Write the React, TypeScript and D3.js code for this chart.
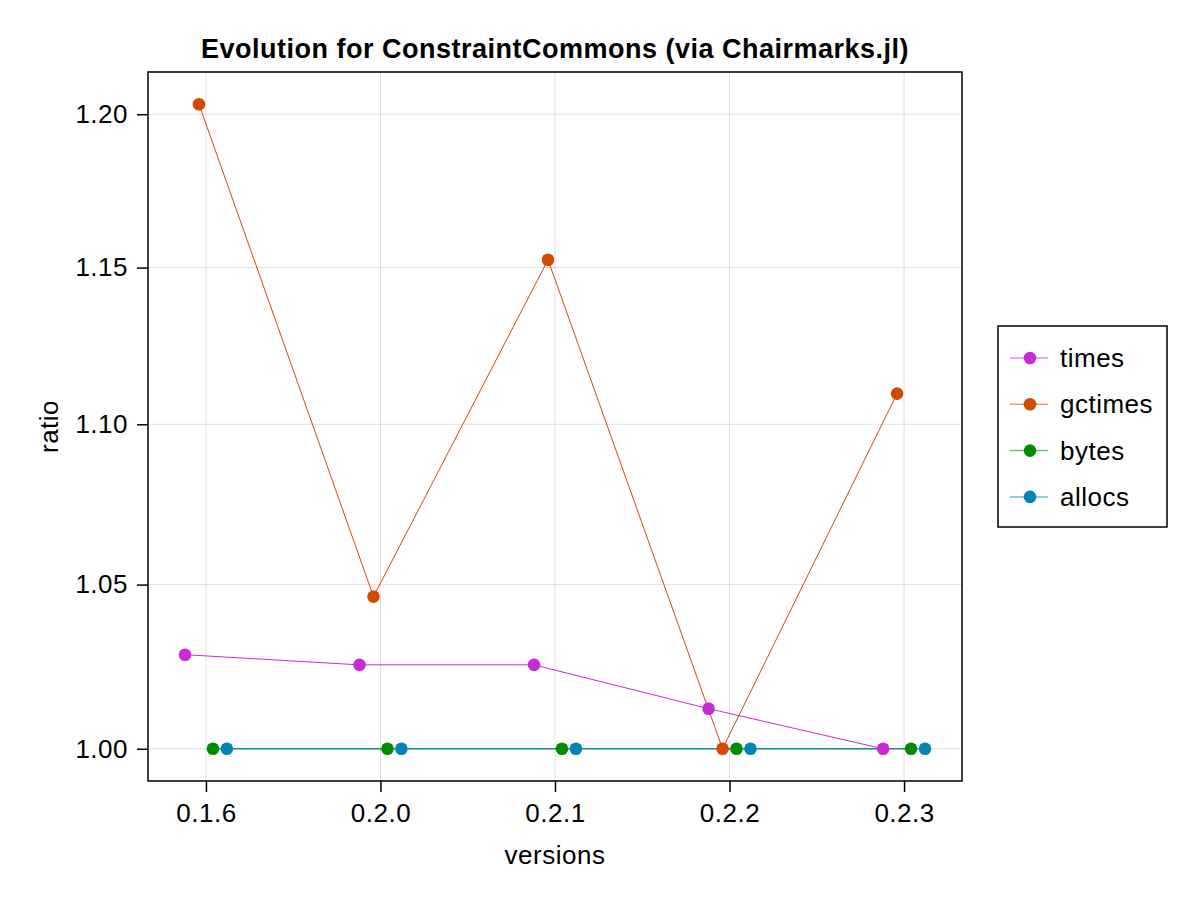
import { useEffect, useRef } from 'react';
import * as d3 from 'd3';

const versions = ['0.1.6', '0.2.0', '0.2.1', '0.2.2', '0.2.3'];
const seriesNames = ['times', 'gctimes', 'bytes', 'allocs'];
const timesValues = [1.0285, 1.0254, 1.0254, 1.0121, 1.0];
const gctimesValues = [1.2033, 1.0463, 1.1525, 1.0, 1.1097];
const bytesValues = [1.0, 1.0, 1.0, 1.0, 1.0];
const allocsValues = [1.0, 1.0, 1.0, 1.0, 1.0];
const yTicks = [1.0, 1.05, 1.1, 1.15, 1.2];
const colors = ['#c92ad8', '#d04a02', '#008b00', '#0083b5'];

const App = () => {
  const svgRef = useRef<SVGSVGElement>(null);

  useEffect(() => {
    const svg = d3.select(svgRef.current);
    svg.selectAll('*').remove();

    const font = '"Liberation Sans", Arial, sans-serif';
    const ls = '0.5px';
    const fs = 26;
    const left = 148, right = 962, top = 72, bottom = 781;

    const allSeries = [timesValues, gctimesValues, bytesValues, allocsValues];
    // dodge offsets, in version units
    const offsets = [-1.5, -0.5, 0.5, 1.5].map(k => k * 0.08);

    const xMin = 1 + offsets[0];
    const xMax = versions.length + offsets[3];
    const xPad = (xMax - xMin) * 0.05;
    const x = d3.scaleLinear().domain([xMin - xPad, xMax + xPad]).range([left, right]);

    const yMax = d3.max(allSeries.flat())!;
    const yMin = d3.min(allSeries.flat())!;
    const sMin = Math.sqrt(yMin), sMax = Math.sqrt(yMax);
    const sPad = (sMax - sMin) * 0.05;
    const y = d3.scaleSqrt()
      .domain([(sMin - sPad) ** 2, (sMax + sPad) ** 2])
      .range([bottom, top]);

    // grid
    svg.append('g').selectAll('line').data(versions).enter().append('line')
      .attr('x1', (d, i) => x(i + 1)).attr('x2', (d, i) => x(i + 1))
      .attr('y1', top).attr('y2', bottom)
      .attr('stroke', '#000').attr('stroke-opacity', 0.12).attr('stroke-width', 1);
    svg.append('g').selectAll('line').data(yTicks).enter().append('line')
      .attr('x1', left).attr('x2', right)
      .attr('y1', d => y(d)).attr('y2', d => y(d))
      .attr('stroke', '#000').attr('stroke-opacity', 0.12).attr('stroke-width', 1);

    // series
    allSeries.forEach((vals, si) => {
      const pts = vals.map((v, i) => [x(i + 1 + offsets[si]), y(v)] as [number, number]);
      svg.append('path')
        .attr('d', d3.line()(pts))
        .attr('fill', 'none')
        .attr('stroke', colors[si])
        .attr('stroke-width', 1);
    });
    allSeries.forEach((vals, si) => {
      svg.append('g').selectAll('circle').data(vals).enter().append('circle')
        .attr('cx', (d, i) => x(i + 1 + offsets[si]))
        .attr('cy', d => y(d))
        .attr('r', 6.3)
        .attr('fill', colors[si]);
    });

    // frame
    svg.append('rect')
      .attr('x', left).attr('y', top)
      .attr('width', right - left).attr('height', bottom - top)
      .attr('fill', 'none').attr('stroke', '#000').attr('stroke-width', 1.5);

    // x axis
    const xAxis = svg.append('g')
      .attr('transform', `translate(0,${bottom})`)
      .call(d3.axisBottom(x).tickValues(versions.map((v, i) => i + 1))
        .tickFormat((d, i) => versions[i]).tickSize(11).tickPadding(12));
    xAxis.select('.domain').remove();
    xAxis.selectAll('line').attr('stroke-width', 1.5);
    xAxis.selectAll('text').attr('font-family', font).attr('font-size', fs)
      .attr('letter-spacing', ls).attr('fill', '#000');

    // y axis
    const yAxis = svg.append('g')
      .attr('transform', `translate(${left},0)`)
      .call(d3.axisLeft(y).tickValues(yTicks).tickFormat(d3.format('.2f')).tickSize(11).tickPadding(9));
    yAxis.select('.domain').remove();
    yAxis.selectAll('line').attr('stroke-width', 1.5);
    yAxis.selectAll('text').attr('font-family', font).attr('font-size', fs)
      .attr('letter-spacing', ls).attr('fill', '#000');

    // labels
    svg.append('text')
      .attr('x', (left + right) / 2).attr('y', 58)
      .attr('text-anchor', 'middle')
      .attr('font-family', font).attr('font-size', 27).attr('font-weight', 'bold')
      .attr('letter-spacing', ls)
      .text('Evolution for ConstraintCommons (via Chairmarks.jl)');
    svg.append('text')
      .attr('x', (left + right) / 2).attr('y', 864)
      .attr('text-anchor', 'middle')
      .attr('font-family', font).attr('font-size', fs).attr('letter-spacing', ls)
      .text('versions');
    svg.append('text')
      .attr('transform', `translate(58,${(top + bottom) / 2}) rotate(-90)`)
      .attr('text-anchor', 'middle')
      .attr('font-family', font).attr('font-size', fs).attr('letter-spacing', ls)
      .text('ratio');

    // legend
    const legend = svg.append('g');
    legend.append('rect')
      .attr('x', 998).attr('y', 326).attr('width', 169).attr('height', 201)
      .attr('fill', '#fff').attr('stroke', '#000').attr('stroke-width', 1.5);
    seriesNames.forEach((name, i) => {
      const cy = 358 + i * 46.3;
      legend.append('line')
        .attr('x1', 1010).attr('x2', 1048).attr('y1', cy).attr('y2', cy)
        .attr('stroke', colors[i]).attr('stroke-opacity', 0.55).attr('stroke-width', 1.5);
      legend.append('circle')
        .attr('cx', 1030).attr('cy', cy).attr('r', 6.3).attr('fill', colors[i]);
      legend.append('text')
        .attr('x', 1060).attr('y', cy + 9)
        .attr('font-family', font).attr('font-size', fs).attr('letter-spacing', ls)
        .text(name);
    });
  }, []);

  return <svg ref={svgRef} width={1200} height={900} style={{ display: 'block', margin: '-8px' }}></svg>;
};

export default App;
